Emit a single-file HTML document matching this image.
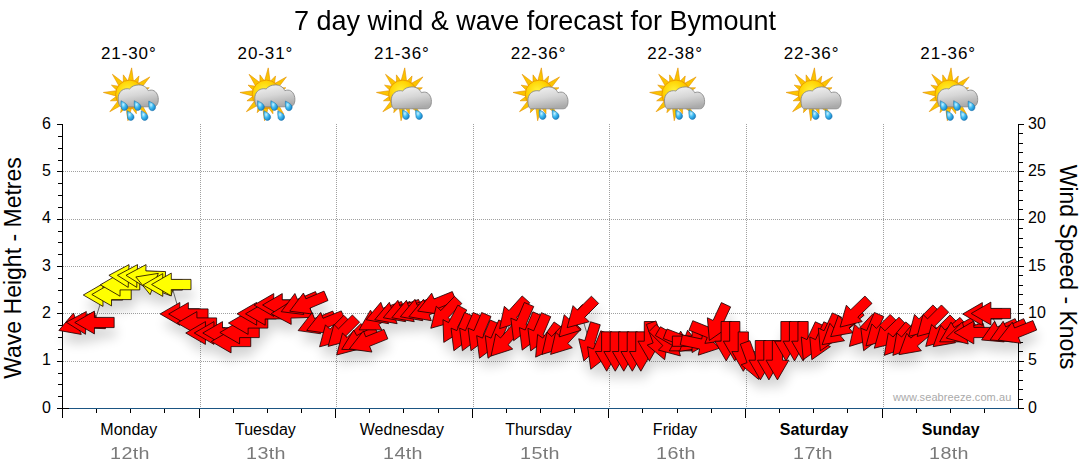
<!DOCTYPE html><html><head><meta charset="utf-8"><style>
html,body{margin:0;padding:0;background:#fff;width:1080px;height:475px;overflow:hidden}
body{position:relative;font-family:"Liberation Sans",sans-serif;color:#000}
.t{position:absolute;white-space:nowrap;line-height:1}
</style></head><body>
<div class="t" style="left:294px;top:6.5px;font-size:28px;transform:scaleX(0.965);transform-origin:0 0">7 day wind &amp; wave forecast for Bymount</div>
<div class="t" style="left:28.8px;width:200px;text-align:center;top:45px;font-size:17px;letter-spacing:0.9px">21-30°</div>
<div class="t" style="left:28.8px;width:200px;text-align:center;top:422px;font-size:16px;">Monday</div>
<div class="t" style="left:29.8px;width:200px;text-align:center;top:445px;font-size:17px;letter-spacing:0.3px;color:#7a7a7a;transform:scaleX(1.16)">12th</div>
<div class="t" style="left:165.4px;width:200px;text-align:center;top:45px;font-size:17px;letter-spacing:0.9px">20-31°</div>
<div class="t" style="left:165.4px;width:200px;text-align:center;top:422px;font-size:16px;">Tuesday</div>
<div class="t" style="left:166.4px;width:200px;text-align:center;top:445px;font-size:17px;letter-spacing:0.3px;color:#7a7a7a;transform:scaleX(1.16)">13th</div>
<div class="t" style="left:301.9px;width:200px;text-align:center;top:45px;font-size:17px;letter-spacing:0.9px">21-36°</div>
<div class="t" style="left:301.9px;width:200px;text-align:center;top:422px;font-size:16px;">Wednesday</div>
<div class="t" style="left:302.9px;width:200px;text-align:center;top:445px;font-size:17px;letter-spacing:0.3px;color:#7a7a7a;transform:scaleX(1.16)">14th</div>
<div class="t" style="left:438.5px;width:200px;text-align:center;top:45px;font-size:17px;letter-spacing:0.9px">22-36°</div>
<div class="t" style="left:438.5px;width:200px;text-align:center;top:422px;font-size:16px;">Thursday</div>
<div class="t" style="left:439.5px;width:200px;text-align:center;top:445px;font-size:17px;letter-spacing:0.3px;color:#7a7a7a;transform:scaleX(1.16)">15th</div>
<div class="t" style="left:575.1px;width:200px;text-align:center;top:45px;font-size:17px;letter-spacing:0.9px">22-38°</div>
<div class="t" style="left:575.1px;width:200px;text-align:center;top:422px;font-size:16px;">Friday</div>
<div class="t" style="left:576.1px;width:200px;text-align:center;top:445px;font-size:17px;letter-spacing:0.3px;color:#7a7a7a;transform:scaleX(1.16)">16th</div>
<div class="t" style="left:711.6px;width:200px;text-align:center;top:45px;font-size:17px;letter-spacing:0.9px">22-36°</div>
<div class="t" style="left:714.1px;width:200px;text-align:center;top:422px;font-size:16px;font-weight:bold;">Saturday</div>
<div class="t" style="left:712.6px;width:200px;text-align:center;top:445px;font-size:17px;letter-spacing:0.3px;color:#7a7a7a;transform:scaleX(1.16)">17th</div>
<div class="t" style="left:848.2px;width:200px;text-align:center;top:45px;font-size:17px;letter-spacing:0.9px">21-36°</div>
<div class="t" style="left:850.7px;width:200px;text-align:center;top:422px;font-size:16px;font-weight:bold;">Sunday</div>
<div class="t" style="left:849.2px;width:200px;text-align:center;top:445px;font-size:17px;letter-spacing:0.3px;color:#7a7a7a;transform:scaleX(1.16)">18th</div>
<div class="t" style="left:12.5px;top:267.5px;font-size:23px;transform:translate(-50%,-50%) rotate(-90deg)">Wave Height - Metres</div>
<div class="t" style="left:1066.8px;top:266.5px;font-size:23px;transform:translate(-50%,-50%) rotate(90deg)">Wind Speed - Knots</div>
<svg style="position:absolute;left:0;top:0" width="1080" height="475" viewBox="0 0 1080 475" shape-rendering="crispEdges">
<line x1="63" y1="171.5" x2="1018" y2="171.5" stroke="#a0a0a0" stroke-width="1" stroke-dasharray="1 1"/>
<line x1="63" y1="219.5" x2="1018" y2="219.5" stroke="#a0a0a0" stroke-width="1" stroke-dasharray="1 1"/>
<line x1="63" y1="266.5" x2="1018" y2="266.5" stroke="#a0a0a0" stroke-width="1" stroke-dasharray="1 1"/>
<line x1="63" y1="313.5" x2="1018" y2="313.5" stroke="#a0a0a0" stroke-width="1" stroke-dasharray="1 1"/>
<line x1="63" y1="361.5" x2="1018" y2="361.5" stroke="#a0a0a0" stroke-width="1" stroke-dasharray="1 1"/>
<line x1="200.5" y1="124" x2="200.5" y2="408" stroke="#a0a0a0" stroke-width="1" stroke-dasharray="1 1"/>
<line x1="336.5" y1="124" x2="336.5" y2="408" stroke="#a0a0a0" stroke-width="1" stroke-dasharray="1 1"/>
<line x1="473.5" y1="124" x2="473.5" y2="408" stroke="#a0a0a0" stroke-width="1" stroke-dasharray="1 1"/>
<line x1="609.5" y1="124" x2="609.5" y2="408" stroke="#a0a0a0" stroke-width="1" stroke-dasharray="1 1"/>
<line x1="746.5" y1="124" x2="746.5" y2="408" stroke="#a0a0a0" stroke-width="1" stroke-dasharray="1 1"/>
<line x1="883.5" y1="124" x2="883.5" y2="408" stroke="#a0a0a0" stroke-width="1" stroke-dasharray="1 1"/>
</svg>
<div class="t" style="left:0;width:51px;text-align:right;top:399.5px;font-size:16px">0</div>
<div class="t" style="left:1028px;top:399.5px;font-size:16px">0</div>
<div class="t" style="left:0;width:51px;text-align:right;top:352.2px;font-size:16px">1</div>
<div class="t" style="left:1028px;top:352.2px;font-size:16px">5</div>
<div class="t" style="left:0;width:51px;text-align:right;top:304.8px;font-size:16px">2</div>
<div class="t" style="left:1028px;top:304.8px;font-size:16px">10</div>
<div class="t" style="left:0;width:51px;text-align:right;top:257.5px;font-size:16px">3</div>
<div class="t" style="left:1028px;top:257.5px;font-size:16px">15</div>
<div class="t" style="left:0;width:51px;text-align:right;top:210.2px;font-size:16px">4</div>
<div class="t" style="left:1028px;top:210.2px;font-size:16px">20</div>
<div class="t" style="left:0;width:51px;text-align:right;top:162.9px;font-size:16px">5</div>
<div class="t" style="left:1028px;top:162.9px;font-size:16px">25</div>
<div class="t" style="left:0;width:51px;text-align:right;top:115.5px;font-size:16px">6</div>
<div class="t" style="left:1028px;top:115.5px;font-size:16px">30</div>
<svg style="position:absolute;left:0;top:0" width="1080" height="475" viewBox="0 0 1080 475" shape-rendering="crispEdges">
<rect x="62" y="124" width="1" height="294" fill="#000"/>
<rect x="1018" y="124" width="1" height="285" fill="#000"/>
<rect x="69" y="408" width="949" height="1" fill="#1b5583"/>
<rect x="57" y="408" width="12" height="1" fill="#000"/>
<rect x="199" y="409" width="1" height="9" fill="#000"/>
<rect x="335" y="409" width="1" height="9" fill="#000"/>
<rect x="472" y="409" width="1" height="9" fill="#000"/>
<rect x="608" y="409" width="1" height="9" fill="#000"/>
<rect x="745" y="409" width="1" height="9" fill="#000"/>
<rect x="882" y="409" width="1" height="9" fill="#000"/>
<rect x="96" y="409" width="1" height="4" fill="#000"/>
<rect x="130" y="409" width="1" height="4" fill="#000"/>
<rect x="164" y="409" width="1" height="4" fill="#000"/>
<rect x="233" y="409" width="1" height="4" fill="#000"/>
<rect x="267" y="409" width="1" height="4" fill="#000"/>
<rect x="301" y="409" width="1" height="4" fill="#000"/>
<rect x="369" y="409" width="1" height="4" fill="#000"/>
<rect x="403" y="409" width="1" height="4" fill="#000"/>
<rect x="438" y="409" width="1" height="4" fill="#000"/>
<rect x="506" y="409" width="1" height="4" fill="#000"/>
<rect x="540" y="409" width="1" height="4" fill="#000"/>
<rect x="574" y="409" width="1" height="4" fill="#000"/>
<rect x="642" y="409" width="1" height="4" fill="#000"/>
<rect x="677" y="409" width="1" height="4" fill="#000"/>
<rect x="711" y="409" width="1" height="4" fill="#000"/>
<rect x="779" y="409" width="1" height="4" fill="#000"/>
<rect x="813" y="409" width="1" height="4" fill="#000"/>
<rect x="847" y="409" width="1" height="4" fill="#000"/>
<rect x="916" y="409" width="1" height="4" fill="#000"/>
<rect x="950" y="409" width="1" height="4" fill="#000"/>
<rect x="984" y="409" width="1" height="4" fill="#000"/>
<rect x="57" y="408" width="5" height="1" fill="#000"/>
<rect x="1019" y="408" width="5" height="1" fill="#000"/>
<rect x="57" y="361" width="5" height="1" fill="#000"/>
<rect x="1019" y="361" width="5" height="1" fill="#000"/>
<rect x="57" y="313" width="5" height="1" fill="#000"/>
<rect x="1019" y="313" width="5" height="1" fill="#000"/>
<rect x="57" y="266" width="5" height="1" fill="#000"/>
<rect x="1019" y="266" width="5" height="1" fill="#000"/>
<rect x="57" y="219" width="5" height="1" fill="#000"/>
<rect x="1019" y="219" width="5" height="1" fill="#000"/>
<rect x="57" y="171" width="5" height="1" fill="#000"/>
<rect x="1019" y="171" width="5" height="1" fill="#000"/>
<rect x="57" y="124" width="5" height="1" fill="#000"/>
<rect x="1019" y="124" width="5" height="1" fill="#000"/>
<rect x="58" y="396" width="4" height="1" fill="#000"/>
<rect x="58" y="384" width="4" height="1" fill="#000"/>
<rect x="58" y="373" width="4" height="1" fill="#000"/>
<rect x="58" y="349" width="4" height="1" fill="#000"/>
<rect x="58" y="337" width="4" height="1" fill="#000"/>
<rect x="58" y="325" width="4" height="1" fill="#000"/>
<rect x="58" y="302" width="4" height="1" fill="#000"/>
<rect x="58" y="290" width="4" height="1" fill="#000"/>
<rect x="58" y="278" width="4" height="1" fill="#000"/>
<rect x="58" y="254" width="4" height="1" fill="#000"/>
<rect x="58" y="242" width="4" height="1" fill="#000"/>
<rect x="58" y="231" width="4" height="1" fill="#000"/>
<rect x="58" y="207" width="4" height="1" fill="#000"/>
<rect x="58" y="195" width="4" height="1" fill="#000"/>
<rect x="58" y="183" width="4" height="1" fill="#000"/>
<rect x="58" y="160" width="4" height="1" fill="#000"/>
<rect x="58" y="148" width="4" height="1" fill="#000"/>
<rect x="58" y="136" width="4" height="1" fill="#000"/>
<rect x="1019" y="399" width="4" height="1" fill="#000"/>
<rect x="1019" y="389" width="4" height="1" fill="#000"/>
<rect x="1019" y="380" width="4" height="1" fill="#000"/>
<rect x="1019" y="370" width="4" height="1" fill="#000"/>
<rect x="1019" y="351" width="4" height="1" fill="#000"/>
<rect x="1019" y="342" width="4" height="1" fill="#000"/>
<rect x="1019" y="332" width="4" height="1" fill="#000"/>
<rect x="1019" y="323" width="4" height="1" fill="#000"/>
<rect x="1019" y="304" width="4" height="1" fill="#000"/>
<rect x="1019" y="294" width="4" height="1" fill="#000"/>
<rect x="1019" y="285" width="4" height="1" fill="#000"/>
<rect x="1019" y="275" width="4" height="1" fill="#000"/>
<rect x="1019" y="257" width="4" height="1" fill="#000"/>
<rect x="1019" y="247" width="4" height="1" fill="#000"/>
<rect x="1019" y="238" width="4" height="1" fill="#000"/>
<rect x="1019" y="228" width="4" height="1" fill="#000"/>
<rect x="1019" y="209" width="4" height="1" fill="#000"/>
<rect x="1019" y="200" width="4" height="1" fill="#000"/>
<rect x="1019" y="190" width="4" height="1" fill="#000"/>
<rect x="1019" y="181" width="4" height="1" fill="#000"/>
<rect x="1019" y="162" width="4" height="1" fill="#000"/>
<rect x="1019" y="152" width="4" height="1" fill="#000"/>
<rect x="1019" y="143" width="4" height="1" fill="#000"/>
<rect x="1019" y="133" width="4" height="1" fill="#000"/>
</svg>
<svg style="position:absolute;left:0;top:0" width="1080" height="475" viewBox="0 0 1080 475">
<defs><filter id="shd" x="-10%" y="-50%" width="120%" height="200%"><feGaussianBlur stdDeviation="6"/></filter></defs>
<g filter="url(#shd)" opacity="0.17" transform="translate(2,10)">
<polygon points="58.86,330.44 73.48,312.99 75.63,318.91 94.14,312.17 97.63,321.75 79.12,328.49 81.27,334.41" fill="#000"/>
<polygon points="66.22,322.21 86.31,311.51 86.09,317.80 105.78,318.49 105.42,328.68 85.73,328.00 85.51,334.29" fill="#000"/>
<polygon points="74.75,322.50 94.45,311.10 94.45,317.40 114.15,317.40 114.15,327.60 94.45,327.60 94.45,333.90" fill="#000"/>
<polygon points="83.29,295.00 102.99,283.60 102.99,289.90 122.69,289.90 122.69,300.10 102.99,300.10 102.99,306.40" fill="#000"/>
<polygon points="91.82,294.50 111.52,283.10 111.52,289.40 131.22,289.40 131.22,299.60 111.52,299.60 111.52,305.90" fill="#000"/>
<polygon points="100.36,284.80 120.06,273.40 120.06,279.70 139.76,279.70 139.76,289.90 120.06,289.90 120.06,296.20" fill="#000"/>
<polygon points="108.91,275.31 129.00,264.61 128.78,270.90 148.47,271.59 148.11,281.78 128.42,281.10 128.20,287.39" fill="#000"/>
<polygon points="117.45,275.31 137.54,264.61 137.32,270.90 157.00,271.59 156.65,281.78 136.96,281.10 136.74,287.39" fill="#000"/>
<polygon points="125.99,275.31 146.07,264.61 145.85,270.90 165.54,271.59 165.19,281.78 145.50,281.10 145.28,287.39" fill="#000"/>
<polygon points="135.82,276.94 158.30,273.36 156.04,279.24 174.43,286.30 170.78,295.82 152.38,288.76 150.13,294.64" fill="#000"/>
<polygon points="143.05,285.00 162.75,273.60 162.75,279.90 182.45,279.90 182.45,290.10 162.75,290.10 162.75,296.40" fill="#000"/>
<polygon points="151.59,284.50 171.29,273.10 171.29,279.40 190.99,279.40 190.99,289.60 171.29,289.60 171.29,295.90" fill="#000"/>
<polygon points="160.12,313.90 179.82,302.50 179.82,308.80 199.52,308.80 199.52,319.00 179.82,319.00 179.82,325.30" fill="#000"/>
<polygon points="168.66,314.00 188.36,302.60 188.36,308.90 208.06,308.90 208.06,319.10 188.36,319.10 188.36,325.40" fill="#000"/>
<polygon points="177.20,323.00 196.90,311.60 196.90,317.90 216.60,317.90 216.60,328.10 196.90,328.10 196.90,334.40" fill="#000"/>
<polygon points="185.74,333.00 205.44,321.60 205.44,327.90 225.14,327.90 225.14,338.10 205.44,338.10 205.44,344.40" fill="#000"/>
<polygon points="194.27,333.00 213.97,321.60 213.97,327.90 233.67,327.90 233.67,338.10 213.97,338.10 213.97,344.40" fill="#000"/>
<polygon points="202.81,333.00 222.51,321.60 222.51,327.90 242.21,327.90 242.21,338.10 222.51,338.10 222.51,344.40" fill="#000"/>
<polygon points="211.35,341.50 231.05,330.10 231.05,336.40 250.75,336.40 250.75,346.60 231.05,346.60 231.05,352.90" fill="#000"/>
<polygon points="219.89,332.50 239.59,321.10 239.59,327.40 259.29,327.40 259.29,337.60 239.59,337.60 239.59,343.90" fill="#000"/>
<polygon points="228.43,323.00 248.12,311.60 248.12,317.90 267.82,317.90 267.82,328.10 248.12,328.10 248.12,334.40" fill="#000"/>
<polygon points="236.96,313.80 256.66,302.40 256.66,308.70 276.36,308.70 276.36,318.90 256.66,318.90 256.66,325.20" fill="#000"/>
<polygon points="245.50,313.80 265.20,302.40 265.20,308.70 284.90,308.70 284.90,318.90 265.20,318.90 265.20,325.20" fill="#000"/>
<polygon points="254.04,305.00 273.74,293.60 273.74,299.90 293.44,299.90 293.44,310.10 273.74,310.10 273.74,316.40" fill="#000"/>
<polygon points="262.57,305.00 282.27,293.60 282.27,299.90 301.97,299.90 301.97,310.10 282.27,310.10 282.27,316.40" fill="#000"/>
<polygon points="271.12,313.69 290.41,301.61 290.63,307.90 310.32,307.22 310.68,317.41 290.99,318.10 291.21,324.39" fill="#000"/>
<polygon points="281.22,311.70 294.90,293.51 297.36,299.31 315.49,291.61 319.48,301.00 301.34,308.69 303.80,314.49" fill="#000"/>
<polygon points="289.75,311.20 303.43,293.01 305.89,298.81 324.03,291.11 328.01,300.50 309.88,308.19 312.34,313.99" fill="#000"/>
<polygon points="298.16,330.58 312.15,312.63 314.51,318.47 332.78,311.09 336.60,320.55 318.34,327.93 320.70,333.77" fill="#000"/>
<polygon points="306.70,330.38 320.69,312.43 323.05,318.27 341.32,310.89 345.14,320.35 326.87,327.73 329.23,333.57" fill="#000"/>
<polygon points="319.57,346.83 325.44,324.84 329.89,329.29 343.82,315.36 351.04,322.58 337.11,336.51 341.56,340.96" fill="#000"/>
<polygon points="328.11,346.43 333.98,324.44 338.43,328.89 352.36,314.96 359.57,322.18 345.64,336.11 350.10,340.56" fill="#000"/>
<polygon points="336.64,355.03 342.51,333.04 346.97,337.49 360.90,323.56 368.11,330.78 354.18,344.71 358.64,349.16" fill="#000"/>
<polygon points="341.72,349.35 353.76,330.03 356.72,335.60 374.11,326.35 378.90,335.35 361.51,344.60 364.46,350.17" fill="#000"/>
<polygon points="349.38,348.88 363.38,330.93 365.74,336.77 384.01,329.39 387.83,338.85 369.56,346.23 371.92,352.07" fill="#000"/>
<polygon points="359.13,329.85 370.49,310.13 373.64,315.58 390.70,305.73 395.80,314.57 378.74,324.42 381.89,329.87" fill="#000"/>
<polygon points="366.21,319.74 380.83,302.29 382.98,308.21 401.49,301.47 404.98,311.05 386.47,317.79 388.62,323.71" fill="#000"/>
<polygon points="374.75,319.74 389.36,302.29 391.52,308.21 410.03,301.47 413.52,311.05 395.01,317.79 397.16,323.71" fill="#000"/>
<polygon points="383.29,317.74 397.90,300.29 400.06,306.21 418.57,299.47 422.06,309.05 403.54,315.79 405.70,321.71" fill="#000"/>
<polygon points="391.83,317.74 406.44,300.29 408.59,306.21 427.11,299.47 430.59,309.05 412.08,315.79 414.24,321.71" fill="#000"/>
<polygon points="400.36,316.74 414.98,299.29 417.13,305.21 435.64,298.47 439.13,308.05 420.62,314.79 422.77,320.71" fill="#000"/>
<polygon points="408.90,316.74 423.51,299.29 425.67,305.21 444.18,298.47 447.67,308.05 429.16,314.79 431.31,320.71" fill="#000"/>
<polygon points="417.68,311.08 431.68,293.13 434.04,298.97 452.31,291.59 456.13,301.05 437.86,308.43 440.22,314.27" fill="#000"/>
<polygon points="430.80,328.27 436.29,306.18 440.82,310.56 454.50,296.39 461.84,303.47 448.16,317.64 452.69,322.02" fill="#000"/>
<polygon points="443.78,342.39 442.96,319.65 448.52,322.61 457.77,305.21 466.78,310.00 457.53,327.39 463.09,330.35" fill="#000"/>
<polygon points="453.87,350.73 451.07,328.15 456.87,330.61 464.57,312.47 473.95,316.46 466.26,334.59 472.06,337.05" fill="#000"/>
<polygon points="462.40,350.73 459.61,328.15 465.41,330.61 473.10,312.47 482.49,316.46 474.79,334.59 480.59,337.05" fill="#000"/>
<polygon points="470.94,350.73 468.14,328.15 473.94,330.61 481.64,312.47 491.03,316.46 483.33,334.59 489.13,337.05" fill="#000"/>
<polygon points="479.48,358.23 476.68,335.65 482.48,338.11 490.18,319.97 499.57,323.96 491.87,342.09 497.67,344.55" fill="#000"/>
<polygon points="488.02,358.23 485.22,335.65 491.02,338.11 498.72,319.97 508.10,323.96 500.41,342.09 506.21,344.55" fill="#000"/>
<polygon points="491.07,356.04 495.78,333.77 500.46,337.99 513.64,323.35 521.22,330.17 508.04,344.81 512.72,349.03" fill="#000"/>
<polygon points="499.61,328.64 504.32,306.37 509.00,310.59 522.18,295.95 529.76,302.77 516.58,317.41 521.26,321.63" fill="#000"/>
<polygon points="513.63,340.73 510.83,318.15 516.63,320.61 524.33,302.47 533.72,306.46 526.02,324.59 531.82,327.05" fill="#000"/>
<polygon points="522.17,350.13 519.37,327.55 525.17,330.01 532.87,311.87 542.25,315.86 534.56,333.99 540.36,336.45" fill="#000"/>
<polygon points="530.70,350.93 527.91,328.35 533.71,330.81 541.40,312.67 550.79,316.66 543.09,334.79 548.89,337.25" fill="#000"/>
<polygon points="535.64,357.14 537.60,334.46 542.76,338.07 554.06,321.94 562.41,327.79 551.12,343.93 556.28,347.54" fill="#000"/>
<polygon points="542.04,354.41 547.14,332.23 551.75,336.52 565.18,322.11 572.64,329.07 559.20,343.48 563.81,347.77" fill="#000"/>
<polygon points="550.58,354.41 555.68,332.23 560.28,336.52 573.72,322.11 581.18,329.07 567.74,343.48 572.35,347.77" fill="#000"/>
<polygon points="559.11,336.91 564.21,314.73 568.82,319.02 582.26,304.61 589.72,311.57 576.28,325.98 580.89,330.27" fill="#000"/>
<polygon points="567.16,327.63 573.03,305.64 577.48,310.09 591.41,296.16 598.62,303.38 584.69,317.31 589.15,321.76" fill="#000"/>
<polygon points="583.87,360.94 578.72,338.77 584.75,340.61 590.51,321.77 600.26,324.75 594.50,343.59 600.53,345.43" fill="#000"/>
<polygon points="590.78,369.27 587.59,346.73 593.43,349.09 600.81,330.82 610.27,334.64 602.89,352.91 608.73,355.27" fill="#000"/>
<polygon points="606.70,371.20 595.30,351.50 601.60,351.50 601.60,331.80 611.80,331.80 611.80,351.50 618.10,351.50" fill="#000"/>
<polygon points="615.24,371.20 603.84,351.50 610.14,351.50 610.14,331.80 620.34,331.80 620.34,351.50 626.64,351.50" fill="#000"/>
<polygon points="623.77,371.20 612.38,351.50 618.67,351.50 618.67,331.80 628.88,331.80 628.88,351.50 635.17,351.50" fill="#000"/>
<polygon points="632.31,371.20 620.91,351.50 627.21,351.50 627.21,331.80 637.41,331.80 637.41,351.50 643.71,351.50" fill="#000"/>
<polygon points="640.85,371.20 629.45,351.50 635.75,351.50 635.75,331.80 645.95,331.80 645.95,351.50 652.25,351.50" fill="#000"/>
<polygon points="649.39,360.90 637.99,341.20 644.29,341.20 644.29,321.50 654.49,321.50 654.49,341.20 660.79,341.20" fill="#000"/>
<polygon points="664.66,359.71 647.21,345.10 653.13,342.94 646.39,324.43 655.98,320.94 662.72,339.46 668.64,337.30" fill="#000"/>
<polygon points="680.39,355.93 658.40,350.06 662.86,345.61 648.93,331.68 656.14,324.46 670.07,338.39 674.52,333.94" fill="#000"/>
<polygon points="692.06,350.85 669.30,350.87 672.45,345.42 655.39,335.57 660.49,326.73 677.55,336.58 680.70,331.13" fill="#000"/>
<polygon points="701.93,347.86 679.45,351.44 681.71,345.56 663.32,338.50 666.97,328.98 685.37,336.04 687.62,330.16" fill="#000"/>
<polygon points="711.77,341.20 692.07,352.60 692.07,346.30 672.37,346.30 672.37,336.10 692.07,336.10 692.07,329.80" fill="#000"/>
<polygon points="719.88,348.10 698.24,355.15 699.55,348.99 680.28,344.89 682.40,334.92 701.67,339.01 702.98,332.85" fill="#000"/>
<polygon points="727.42,340.18 704.88,343.37 707.24,337.53 688.97,330.15 692.79,320.69 711.06,328.07 713.42,322.23" fill="#000"/>
<polygon points="709.36,340.45 707.36,317.78 713.07,320.44 721.39,302.59 730.64,306.90 722.31,324.76 728.02,327.42" fill="#000"/>
<polygon points="726.22,360.90 714.82,341.20 721.12,341.20 721.12,321.50 731.32,321.50 731.32,341.20 737.62,341.20" fill="#000"/>
<polygon points="734.76,360.90 723.36,341.20 729.66,341.20 729.66,321.50 739.86,321.50 739.86,341.20 746.16,341.20" fill="#000"/>
<polygon points="743.30,371.30 731.90,351.60 738.20,351.60 738.20,331.90 748.40,331.90 748.40,351.60 754.70,351.60" fill="#000"/>
<polygon points="758.58,379.41 741.13,364.80 747.05,362.64 740.31,344.13 749.89,340.64 756.63,359.16 762.55,357.00" fill="#000"/>
<polygon points="760.37,379.90 748.97,360.20 755.27,360.20 755.27,340.50 765.47,340.50 765.47,360.20 771.77,360.20" fill="#000"/>
<polygon points="768.91,379.90 757.51,360.20 763.81,360.20 763.81,340.50 774.01,340.50 774.01,360.20 780.31,360.20" fill="#000"/>
<polygon points="777.45,379.90 766.05,360.20 772.35,360.20 772.35,340.50 782.55,340.50 782.55,360.20 788.85,360.20" fill="#000"/>
<polygon points="785.99,360.90 774.59,341.20 780.89,341.20 780.89,321.50 791.09,321.50 791.09,341.20 797.39,341.20" fill="#000"/>
<polygon points="794.52,360.90 783.12,341.20 789.42,341.20 789.42,321.50 799.62,321.50 799.62,341.20 805.92,341.20" fill="#000"/>
<polygon points="803.06,360.90 791.66,341.20 797.96,341.20 797.96,321.50 808.16,321.50 808.16,341.20 814.46,341.20" fill="#000"/>
<polygon points="803.27,359.65 801.27,336.98 806.98,339.64 815.30,321.79 824.55,326.10 816.22,343.96 821.93,346.62" fill="#000"/>
<polygon points="811.81,359.65 809.81,336.98 815.52,339.64 823.84,321.79 833.09,326.10 824.76,343.96 830.47,346.62" fill="#000"/>
<polygon points="820.35,350.75 818.34,328.08 824.05,330.74 832.38,312.89 841.62,317.20 833.30,335.06 839.01,337.72" fill="#000"/>
<polygon points="822.12,344.66 829.88,323.27 833.93,328.09 849.03,315.43 855.58,323.24 840.49,335.91 844.54,340.73" fill="#000"/>
<polygon points="830.66,336.66 838.42,315.27 842.47,320.09 857.56,307.43 864.12,315.24 849.03,327.91 853.08,332.73" fill="#000"/>
<polygon points="840.12,327.08 846.37,305.20 850.74,309.73 864.92,296.05 872.00,303.38 857.83,317.07 862.21,321.60" fill="#000"/>
<polygon points="849.39,346.41 854.49,324.23 859.10,328.52 872.53,314.11 879.99,321.07 866.55,335.48 871.16,339.77" fill="#000"/>
<polygon points="863.67,350.73 860.87,328.15 866.67,330.61 874.37,312.47 883.75,316.46 876.06,334.59 881.86,337.05" fill="#000"/>
<polygon points="865.97,345.93 871.84,323.94 876.29,328.39 890.22,314.46 897.44,321.68 883.51,335.61 887.96,340.06" fill="#000"/>
<polygon points="874.27,348.18 880.52,326.30 884.89,330.83 899.07,317.15 906.15,324.48 891.98,338.17 896.36,342.70" fill="#000"/>
<polygon points="884.31,355.39 888.24,332.97 893.07,337.02 905.73,321.93 913.54,328.49 900.88,343.58 905.71,347.63" fill="#000"/>
<polygon points="892.85,355.39 896.78,332.97 901.61,337.02 914.27,321.93 922.08,328.49 909.42,343.58 914.25,347.63" fill="#000"/>
<polygon points="898.96,354.66 906.72,333.27 910.77,338.09 925.86,325.43 932.42,333.24 917.33,345.91 921.38,350.73" fill="#000"/>
<polygon points="908.66,336.43 914.53,314.44 918.98,318.89 932.91,304.96 940.12,312.18 926.19,326.11 930.65,330.56" fill="#000"/>
<polygon points="917.19,336.43 923.06,314.44 927.52,318.89 941.45,304.96 948.66,312.18 934.73,326.11 939.19,330.56" fill="#000"/>
<polygon points="925.73,346.43 931.60,324.44 936.06,328.89 949.99,314.96 957.20,322.18 943.27,336.11 947.72,340.56" fill="#000"/>
<polygon points="933.11,346.66 940.87,325.27 944.92,330.09 960.01,317.43 966.57,325.24 951.48,337.91 955.53,342.73" fill="#000"/>
<polygon points="939.68,341.85 951.04,322.13 954.19,327.58 971.25,317.73 976.35,326.57 959.29,336.42 962.44,341.87" fill="#000"/>
<polygon points="946.25,338.10 962.32,321.99 963.96,328.07 982.98,322.98 985.62,332.83 966.59,337.93 968.23,344.01" fill="#000"/>
<polygon points="954.11,332.50 973.81,321.10 973.81,327.40 993.51,327.40 993.51,337.60 973.81,337.60 973.81,343.90" fill="#000"/>
<polygon points="962.65,314.00 982.35,302.60 982.35,308.90 1002.05,308.90 1002.05,319.10 982.35,319.10 982.35,325.40" fill="#000"/>
<polygon points="971.19,313.50 990.89,302.10 990.89,308.40 1010.59,308.40 1010.59,318.60 990.89,318.60 990.89,324.90" fill="#000"/>
<polygon points="981.57,339.93 994.61,321.27 997.27,326.98 1015.12,318.65 1019.43,327.90 1001.58,336.22 1004.24,341.93" fill="#000"/>
<polygon points="990.11,339.93 1003.14,321.27 1005.81,326.98 1023.66,318.65 1027.97,327.90 1010.12,336.22 1012.78,341.93" fill="#000"/>
<polygon points="998.23,340.08 1012.23,322.13 1014.59,327.97 1032.86,320.59 1036.68,330.05 1018.41,337.43 1020.77,343.27" fill="#000"/>
</g>
<polyline points="77.4,323.7 85.9,322.9 94.4,322.5 103.0,295.0 111.5,294.5 120.1,284.8 128.6,276.0 137.1,276.0 145.7,276.0 154.2,284.0 162.8,285.0 171.3,284.5 179.8,313.9 188.4,314.0 196.9,323.0 205.4,333.0 214.0,333.0 222.5,333.0 231.1,341.5 239.6,332.5 248.1,323.0 256.7,313.8 265.2,313.8 273.7,305.0 282.3,305.0 290.8,313.0 299.3,304.0 307.9,303.5 316.4,323.2 325.0,323.0 333.5,332.9 342.0,332.5 350.6,341.1 359.1,340.1 367.6,341.5 376.2,320.0 384.7,313.0 393.3,313.0 401.8,311.0 410.3,311.0 418.9,310.0 427.4,310.0 435.9,303.7 444.5,314.1 453.0,325.0 461.6,332.6 470.1,332.6 478.6,332.6 487.2,340.1 495.7,340.1 504.2,341.4 512.8,314.0 521.3,322.6 529.9,332.0 538.4,332.8 546.9,341.0 555.5,340.0 564.0,340.0 572.5,322.5 581.1,313.7 589.6,342.1 598.2,351.0 606.7,351.5 615.2,351.5 623.8,351.5 632.3,351.5 640.8,351.5 649.4,341.2 657.9,341.2 666.5,342.0 675.0,341.0 683.5,340.8 692.1,341.2 700.6,344.0 709.1,332.8 717.7,322.6 726.2,341.2 734.8,341.2 743.3,351.6 751.8,360.9 760.4,360.2 768.9,360.2 777.4,360.2 786.0,341.2 794.5,341.2 803.1,341.2 811.6,341.8 820.1,341.8 828.7,332.9 837.2,332.0 845.7,324.0 854.3,313.4 862.8,332.0 871.4,332.6 879.9,332.0 888.4,334.5 897.0,340.3 905.5,340.3 914.0,342.0 922.6,322.5 931.1,322.5 939.7,332.5 948.2,334.0 956.7,332.0 965.3,333.0 973.8,332.5 982.3,314.0 990.9,313.5 999.4,331.6 1008.0,331.6 1016.5,332.7" fill="none" stroke="#666" stroke-width="1"/>
<polygon points="58.86,330.44 73.48,312.99 75.63,318.91 94.14,312.17 97.63,321.75 79.12,328.49 81.27,334.41" fill="#ff0000" stroke="#140000" stroke-width="0.8" stroke-linejoin="miter"/>
<polygon points="66.22,322.21 86.31,311.51 86.09,317.80 105.78,318.49 105.42,328.68 85.73,328.00 85.51,334.29" fill="#ff0000" stroke="#140000" stroke-width="0.8" stroke-linejoin="miter"/>
<polygon points="74.75,322.50 94.45,311.10 94.45,317.40 114.15,317.40 114.15,327.60 94.45,327.60 94.45,333.90" fill="#ff0000" stroke="#140000" stroke-width="0.8" stroke-linejoin="miter"/>
<polygon points="83.29,295.00 102.99,283.60 102.99,289.90 122.69,289.90 122.69,300.10 102.99,300.10 102.99,306.40" fill="#ffff00" stroke="#140000" stroke-width="0.8" stroke-linejoin="miter"/>
<polygon points="91.82,294.50 111.52,283.10 111.52,289.40 131.22,289.40 131.22,299.60 111.52,299.60 111.52,305.90" fill="#ffff00" stroke="#140000" stroke-width="0.8" stroke-linejoin="miter"/>
<polygon points="100.36,284.80 120.06,273.40 120.06,279.70 139.76,279.70 139.76,289.90 120.06,289.90 120.06,296.20" fill="#ffff00" stroke="#140000" stroke-width="0.8" stroke-linejoin="miter"/>
<polygon points="108.91,275.31 129.00,264.61 128.78,270.90 148.47,271.59 148.11,281.78 128.42,281.10 128.20,287.39" fill="#ffff00" stroke="#140000" stroke-width="0.8" stroke-linejoin="miter"/>
<polygon points="117.45,275.31 137.54,264.61 137.32,270.90 157.00,271.59 156.65,281.78 136.96,281.10 136.74,287.39" fill="#ffff00" stroke="#140000" stroke-width="0.8" stroke-linejoin="miter"/>
<polygon points="125.99,275.31 146.07,264.61 145.85,270.90 165.54,271.59 165.19,281.78 145.50,281.10 145.28,287.39" fill="#ffff00" stroke="#140000" stroke-width="0.8" stroke-linejoin="miter"/>
<polygon points="135.82,276.94 158.30,273.36 156.04,279.24 174.43,286.30 170.78,295.82 152.38,288.76 150.13,294.64" fill="#ffff00" stroke="#140000" stroke-width="0.8" stroke-linejoin="miter"/>
<polygon points="143.05,285.00 162.75,273.60 162.75,279.90 182.45,279.90 182.45,290.10 162.75,290.10 162.75,296.40" fill="#ffff00" stroke="#140000" stroke-width="0.8" stroke-linejoin="miter"/>
<polygon points="151.59,284.50 171.29,273.10 171.29,279.40 190.99,279.40 190.99,289.60 171.29,289.60 171.29,295.90" fill="#ffff00" stroke="#140000" stroke-width="0.8" stroke-linejoin="miter"/>
<polygon points="160.12,313.90 179.82,302.50 179.82,308.80 199.52,308.80 199.52,319.00 179.82,319.00 179.82,325.30" fill="#ff0000" stroke="#140000" stroke-width="0.8" stroke-linejoin="miter"/>
<polygon points="168.66,314.00 188.36,302.60 188.36,308.90 208.06,308.90 208.06,319.10 188.36,319.10 188.36,325.40" fill="#ff0000" stroke="#140000" stroke-width="0.8" stroke-linejoin="miter"/>
<polygon points="177.20,323.00 196.90,311.60 196.90,317.90 216.60,317.90 216.60,328.10 196.90,328.10 196.90,334.40" fill="#ff0000" stroke="#140000" stroke-width="0.8" stroke-linejoin="miter"/>
<polygon points="185.74,333.00 205.44,321.60 205.44,327.90 225.14,327.90 225.14,338.10 205.44,338.10 205.44,344.40" fill="#ff0000" stroke="#140000" stroke-width="0.8" stroke-linejoin="miter"/>
<polygon points="194.27,333.00 213.97,321.60 213.97,327.90 233.67,327.90 233.67,338.10 213.97,338.10 213.97,344.40" fill="#ff0000" stroke="#140000" stroke-width="0.8" stroke-linejoin="miter"/>
<polygon points="202.81,333.00 222.51,321.60 222.51,327.90 242.21,327.90 242.21,338.10 222.51,338.10 222.51,344.40" fill="#ff0000" stroke="#140000" stroke-width="0.8" stroke-linejoin="miter"/>
<polygon points="211.35,341.50 231.05,330.10 231.05,336.40 250.75,336.40 250.75,346.60 231.05,346.60 231.05,352.90" fill="#ff0000" stroke="#140000" stroke-width="0.8" stroke-linejoin="miter"/>
<polygon points="219.89,332.50 239.59,321.10 239.59,327.40 259.29,327.40 259.29,337.60 239.59,337.60 239.59,343.90" fill="#ff0000" stroke="#140000" stroke-width="0.8" stroke-linejoin="miter"/>
<polygon points="228.43,323.00 248.12,311.60 248.12,317.90 267.82,317.90 267.82,328.10 248.12,328.10 248.12,334.40" fill="#ff0000" stroke="#140000" stroke-width="0.8" stroke-linejoin="miter"/>
<polygon points="236.96,313.80 256.66,302.40 256.66,308.70 276.36,308.70 276.36,318.90 256.66,318.90 256.66,325.20" fill="#ff0000" stroke="#140000" stroke-width="0.8" stroke-linejoin="miter"/>
<polygon points="245.50,313.80 265.20,302.40 265.20,308.70 284.90,308.70 284.90,318.90 265.20,318.90 265.20,325.20" fill="#ff0000" stroke="#140000" stroke-width="0.8" stroke-linejoin="miter"/>
<polygon points="254.04,305.00 273.74,293.60 273.74,299.90 293.44,299.90 293.44,310.10 273.74,310.10 273.74,316.40" fill="#ff0000" stroke="#140000" stroke-width="0.8" stroke-linejoin="miter"/>
<polygon points="262.57,305.00 282.27,293.60 282.27,299.90 301.97,299.90 301.97,310.10 282.27,310.10 282.27,316.40" fill="#ff0000" stroke="#140000" stroke-width="0.8" stroke-linejoin="miter"/>
<polygon points="271.12,313.69 290.41,301.61 290.63,307.90 310.32,307.22 310.68,317.41 290.99,318.10 291.21,324.39" fill="#ff0000" stroke="#140000" stroke-width="0.8" stroke-linejoin="miter"/>
<polygon points="281.22,311.70 294.90,293.51 297.36,299.31 315.49,291.61 319.48,301.00 301.34,308.69 303.80,314.49" fill="#ff0000" stroke="#140000" stroke-width="0.8" stroke-linejoin="miter"/>
<polygon points="289.75,311.20 303.43,293.01 305.89,298.81 324.03,291.11 328.01,300.50 309.88,308.19 312.34,313.99" fill="#ff0000" stroke="#140000" stroke-width="0.8" stroke-linejoin="miter"/>
<polygon points="298.16,330.58 312.15,312.63 314.51,318.47 332.78,311.09 336.60,320.55 318.34,327.93 320.70,333.77" fill="#ff0000" stroke="#140000" stroke-width="0.8" stroke-linejoin="miter"/>
<polygon points="306.70,330.38 320.69,312.43 323.05,318.27 341.32,310.89 345.14,320.35 326.87,327.73 329.23,333.57" fill="#ff0000" stroke="#140000" stroke-width="0.8" stroke-linejoin="miter"/>
<polygon points="319.57,346.83 325.44,324.84 329.89,329.29 343.82,315.36 351.04,322.58 337.11,336.51 341.56,340.96" fill="#ff0000" stroke="#140000" stroke-width="0.8" stroke-linejoin="miter"/>
<polygon points="328.11,346.43 333.98,324.44 338.43,328.89 352.36,314.96 359.57,322.18 345.64,336.11 350.10,340.56" fill="#ff0000" stroke="#140000" stroke-width="0.8" stroke-linejoin="miter"/>
<polygon points="336.64,355.03 342.51,333.04 346.97,337.49 360.90,323.56 368.11,330.78 354.18,344.71 358.64,349.16" fill="#ff0000" stroke="#140000" stroke-width="0.8" stroke-linejoin="miter"/>
<polygon points="341.72,349.35 353.76,330.03 356.72,335.60 374.11,326.35 378.90,335.35 361.51,344.60 364.46,350.17" fill="#ff0000" stroke="#140000" stroke-width="0.8" stroke-linejoin="miter"/>
<polygon points="349.38,348.88 363.38,330.93 365.74,336.77 384.01,329.39 387.83,338.85 369.56,346.23 371.92,352.07" fill="#ff0000" stroke="#140000" stroke-width="0.8" stroke-linejoin="miter"/>
<polygon points="359.13,329.85 370.49,310.13 373.64,315.58 390.70,305.73 395.80,314.57 378.74,324.42 381.89,329.87" fill="#ff0000" stroke="#140000" stroke-width="0.8" stroke-linejoin="miter"/>
<polygon points="366.21,319.74 380.83,302.29 382.98,308.21 401.49,301.47 404.98,311.05 386.47,317.79 388.62,323.71" fill="#ff0000" stroke="#140000" stroke-width="0.8" stroke-linejoin="miter"/>
<polygon points="374.75,319.74 389.36,302.29 391.52,308.21 410.03,301.47 413.52,311.05 395.01,317.79 397.16,323.71" fill="#ff0000" stroke="#140000" stroke-width="0.8" stroke-linejoin="miter"/>
<polygon points="383.29,317.74 397.90,300.29 400.06,306.21 418.57,299.47 422.06,309.05 403.54,315.79 405.70,321.71" fill="#ff0000" stroke="#140000" stroke-width="0.8" stroke-linejoin="miter"/>
<polygon points="391.83,317.74 406.44,300.29 408.59,306.21 427.11,299.47 430.59,309.05 412.08,315.79 414.24,321.71" fill="#ff0000" stroke="#140000" stroke-width="0.8" stroke-linejoin="miter"/>
<polygon points="400.36,316.74 414.98,299.29 417.13,305.21 435.64,298.47 439.13,308.05 420.62,314.79 422.77,320.71" fill="#ff0000" stroke="#140000" stroke-width="0.8" stroke-linejoin="miter"/>
<polygon points="408.90,316.74 423.51,299.29 425.67,305.21 444.18,298.47 447.67,308.05 429.16,314.79 431.31,320.71" fill="#ff0000" stroke="#140000" stroke-width="0.8" stroke-linejoin="miter"/>
<polygon points="417.68,311.08 431.68,293.13 434.04,298.97 452.31,291.59 456.13,301.05 437.86,308.43 440.22,314.27" fill="#ff0000" stroke="#140000" stroke-width="0.8" stroke-linejoin="miter"/>
<polygon points="430.80,328.27 436.29,306.18 440.82,310.56 454.50,296.39 461.84,303.47 448.16,317.64 452.69,322.02" fill="#ff0000" stroke="#140000" stroke-width="0.8" stroke-linejoin="miter"/>
<polygon points="443.78,342.39 442.96,319.65 448.52,322.61 457.77,305.21 466.78,310.00 457.53,327.39 463.09,330.35" fill="#ff0000" stroke="#140000" stroke-width="0.8" stroke-linejoin="miter"/>
<polygon points="453.87,350.73 451.07,328.15 456.87,330.61 464.57,312.47 473.95,316.46 466.26,334.59 472.06,337.05" fill="#ff0000" stroke="#140000" stroke-width="0.8" stroke-linejoin="miter"/>
<polygon points="462.40,350.73 459.61,328.15 465.41,330.61 473.10,312.47 482.49,316.46 474.79,334.59 480.59,337.05" fill="#ff0000" stroke="#140000" stroke-width="0.8" stroke-linejoin="miter"/>
<polygon points="470.94,350.73 468.14,328.15 473.94,330.61 481.64,312.47 491.03,316.46 483.33,334.59 489.13,337.05" fill="#ff0000" stroke="#140000" stroke-width="0.8" stroke-linejoin="miter"/>
<polygon points="479.48,358.23 476.68,335.65 482.48,338.11 490.18,319.97 499.57,323.96 491.87,342.09 497.67,344.55" fill="#ff0000" stroke="#140000" stroke-width="0.8" stroke-linejoin="miter"/>
<polygon points="488.02,358.23 485.22,335.65 491.02,338.11 498.72,319.97 508.10,323.96 500.41,342.09 506.21,344.55" fill="#ff0000" stroke="#140000" stroke-width="0.8" stroke-linejoin="miter"/>
<polygon points="491.07,356.04 495.78,333.77 500.46,337.99 513.64,323.35 521.22,330.17 508.04,344.81 512.72,349.03" fill="#ff0000" stroke="#140000" stroke-width="0.8" stroke-linejoin="miter"/>
<polygon points="499.61,328.64 504.32,306.37 509.00,310.59 522.18,295.95 529.76,302.77 516.58,317.41 521.26,321.63" fill="#ff0000" stroke="#140000" stroke-width="0.8" stroke-linejoin="miter"/>
<polygon points="513.63,340.73 510.83,318.15 516.63,320.61 524.33,302.47 533.72,306.46 526.02,324.59 531.82,327.05" fill="#ff0000" stroke="#140000" stroke-width="0.8" stroke-linejoin="miter"/>
<polygon points="522.17,350.13 519.37,327.55 525.17,330.01 532.87,311.87 542.25,315.86 534.56,333.99 540.36,336.45" fill="#ff0000" stroke="#140000" stroke-width="0.8" stroke-linejoin="miter"/>
<polygon points="530.70,350.93 527.91,328.35 533.71,330.81 541.40,312.67 550.79,316.66 543.09,334.79 548.89,337.25" fill="#ff0000" stroke="#140000" stroke-width="0.8" stroke-linejoin="miter"/>
<polygon points="535.64,357.14 537.60,334.46 542.76,338.07 554.06,321.94 562.41,327.79 551.12,343.93 556.28,347.54" fill="#ff0000" stroke="#140000" stroke-width="0.8" stroke-linejoin="miter"/>
<polygon points="542.04,354.41 547.14,332.23 551.75,336.52 565.18,322.11 572.64,329.07 559.20,343.48 563.81,347.77" fill="#ff0000" stroke="#140000" stroke-width="0.8" stroke-linejoin="miter"/>
<polygon points="550.58,354.41 555.68,332.23 560.28,336.52 573.72,322.11 581.18,329.07 567.74,343.48 572.35,347.77" fill="#ff0000" stroke="#140000" stroke-width="0.8" stroke-linejoin="miter"/>
<polygon points="559.11,336.91 564.21,314.73 568.82,319.02 582.26,304.61 589.72,311.57 576.28,325.98 580.89,330.27" fill="#ff0000" stroke="#140000" stroke-width="0.8" stroke-linejoin="miter"/>
<polygon points="567.16,327.63 573.03,305.64 577.48,310.09 591.41,296.16 598.62,303.38 584.69,317.31 589.15,321.76" fill="#ff0000" stroke="#140000" stroke-width="0.8" stroke-linejoin="miter"/>
<polygon points="583.87,360.94 578.72,338.77 584.75,340.61 590.51,321.77 600.26,324.75 594.50,343.59 600.53,345.43" fill="#ff0000" stroke="#140000" stroke-width="0.8" stroke-linejoin="miter"/>
<polygon points="590.78,369.27 587.59,346.73 593.43,349.09 600.81,330.82 610.27,334.64 602.89,352.91 608.73,355.27" fill="#ff0000" stroke="#140000" stroke-width="0.8" stroke-linejoin="miter"/>
<polygon points="606.70,371.20 595.30,351.50 601.60,351.50 601.60,331.80 611.80,331.80 611.80,351.50 618.10,351.50" fill="#ff0000" stroke="#140000" stroke-width="0.8" stroke-linejoin="miter"/>
<polygon points="615.24,371.20 603.84,351.50 610.14,351.50 610.14,331.80 620.34,331.80 620.34,351.50 626.64,351.50" fill="#ff0000" stroke="#140000" stroke-width="0.8" stroke-linejoin="miter"/>
<polygon points="623.77,371.20 612.38,351.50 618.67,351.50 618.67,331.80 628.88,331.80 628.88,351.50 635.17,351.50" fill="#ff0000" stroke="#140000" stroke-width="0.8" stroke-linejoin="miter"/>
<polygon points="632.31,371.20 620.91,351.50 627.21,351.50 627.21,331.80 637.41,331.80 637.41,351.50 643.71,351.50" fill="#ff0000" stroke="#140000" stroke-width="0.8" stroke-linejoin="miter"/>
<polygon points="640.85,371.20 629.45,351.50 635.75,351.50 635.75,331.80 645.95,331.80 645.95,351.50 652.25,351.50" fill="#ff0000" stroke="#140000" stroke-width="0.8" stroke-linejoin="miter"/>
<polygon points="649.39,360.90 637.99,341.20 644.29,341.20 644.29,321.50 654.49,321.50 654.49,341.20 660.79,341.20" fill="#ff0000" stroke="#140000" stroke-width="0.8" stroke-linejoin="miter"/>
<polygon points="664.66,359.71 647.21,345.10 653.13,342.94 646.39,324.43 655.98,320.94 662.72,339.46 668.64,337.30" fill="#ff0000" stroke="#140000" stroke-width="0.8" stroke-linejoin="miter"/>
<polygon points="680.39,355.93 658.40,350.06 662.86,345.61 648.93,331.68 656.14,324.46 670.07,338.39 674.52,333.94" fill="#ff0000" stroke="#140000" stroke-width="0.8" stroke-linejoin="miter"/>
<polygon points="692.06,350.85 669.30,350.87 672.45,345.42 655.39,335.57 660.49,326.73 677.55,336.58 680.70,331.13" fill="#ff0000" stroke="#140000" stroke-width="0.8" stroke-linejoin="miter"/>
<polygon points="701.93,347.86 679.45,351.44 681.71,345.56 663.32,338.50 666.97,328.98 685.37,336.04 687.62,330.16" fill="#ff0000" stroke="#140000" stroke-width="0.8" stroke-linejoin="miter"/>
<polygon points="711.77,341.20 692.07,352.60 692.07,346.30 672.37,346.30 672.37,336.10 692.07,336.10 692.07,329.80" fill="#ff0000" stroke="#140000" stroke-width="0.8" stroke-linejoin="miter"/>
<polygon points="719.88,348.10 698.24,355.15 699.55,348.99 680.28,344.89 682.40,334.92 701.67,339.01 702.98,332.85" fill="#ff0000" stroke="#140000" stroke-width="0.8" stroke-linejoin="miter"/>
<polygon points="727.42,340.18 704.88,343.37 707.24,337.53 688.97,330.15 692.79,320.69 711.06,328.07 713.42,322.23" fill="#ff0000" stroke="#140000" stroke-width="0.8" stroke-linejoin="miter"/>
<polygon points="709.36,340.45 707.36,317.78 713.07,320.44 721.39,302.59 730.64,306.90 722.31,324.76 728.02,327.42" fill="#ff0000" stroke="#140000" stroke-width="0.8" stroke-linejoin="miter"/>
<polygon points="726.22,360.90 714.82,341.20 721.12,341.20 721.12,321.50 731.32,321.50 731.32,341.20 737.62,341.20" fill="#ff0000" stroke="#140000" stroke-width="0.8" stroke-linejoin="miter"/>
<polygon points="734.76,360.90 723.36,341.20 729.66,341.20 729.66,321.50 739.86,321.50 739.86,341.20 746.16,341.20" fill="#ff0000" stroke="#140000" stroke-width="0.8" stroke-linejoin="miter"/>
<polygon points="743.30,371.30 731.90,351.60 738.20,351.60 738.20,331.90 748.40,331.90 748.40,351.60 754.70,351.60" fill="#ff0000" stroke="#140000" stroke-width="0.8" stroke-linejoin="miter"/>
<polygon points="758.58,379.41 741.13,364.80 747.05,362.64 740.31,344.13 749.89,340.64 756.63,359.16 762.55,357.00" fill="#ff0000" stroke="#140000" stroke-width="0.8" stroke-linejoin="miter"/>
<polygon points="760.37,379.90 748.97,360.20 755.27,360.20 755.27,340.50 765.47,340.50 765.47,360.20 771.77,360.20" fill="#ff0000" stroke="#140000" stroke-width="0.8" stroke-linejoin="miter"/>
<polygon points="768.91,379.90 757.51,360.20 763.81,360.20 763.81,340.50 774.01,340.50 774.01,360.20 780.31,360.20" fill="#ff0000" stroke="#140000" stroke-width="0.8" stroke-linejoin="miter"/>
<polygon points="777.45,379.90 766.05,360.20 772.35,360.20 772.35,340.50 782.55,340.50 782.55,360.20 788.85,360.20" fill="#ff0000" stroke="#140000" stroke-width="0.8" stroke-linejoin="miter"/>
<polygon points="785.99,360.90 774.59,341.20 780.89,341.20 780.89,321.50 791.09,321.50 791.09,341.20 797.39,341.20" fill="#ff0000" stroke="#140000" stroke-width="0.8" stroke-linejoin="miter"/>
<polygon points="794.52,360.90 783.12,341.20 789.42,341.20 789.42,321.50 799.62,321.50 799.62,341.20 805.92,341.20" fill="#ff0000" stroke="#140000" stroke-width="0.8" stroke-linejoin="miter"/>
<polygon points="803.06,360.90 791.66,341.20 797.96,341.20 797.96,321.50 808.16,321.50 808.16,341.20 814.46,341.20" fill="#ff0000" stroke="#140000" stroke-width="0.8" stroke-linejoin="miter"/>
<polygon points="803.27,359.65 801.27,336.98 806.98,339.64 815.30,321.79 824.55,326.10 816.22,343.96 821.93,346.62" fill="#ff0000" stroke="#140000" stroke-width="0.8" stroke-linejoin="miter"/>
<polygon points="811.81,359.65 809.81,336.98 815.52,339.64 823.84,321.79 833.09,326.10 824.76,343.96 830.47,346.62" fill="#ff0000" stroke="#140000" stroke-width="0.8" stroke-linejoin="miter"/>
<polygon points="820.35,350.75 818.34,328.08 824.05,330.74 832.38,312.89 841.62,317.20 833.30,335.06 839.01,337.72" fill="#ff0000" stroke="#140000" stroke-width="0.8" stroke-linejoin="miter"/>
<polygon points="822.12,344.66 829.88,323.27 833.93,328.09 849.03,315.43 855.58,323.24 840.49,335.91 844.54,340.73" fill="#ff0000" stroke="#140000" stroke-width="0.8" stroke-linejoin="miter"/>
<polygon points="830.66,336.66 838.42,315.27 842.47,320.09 857.56,307.43 864.12,315.24 849.03,327.91 853.08,332.73" fill="#ff0000" stroke="#140000" stroke-width="0.8" stroke-linejoin="miter"/>
<polygon points="840.12,327.08 846.37,305.20 850.74,309.73 864.92,296.05 872.00,303.38 857.83,317.07 862.21,321.60" fill="#ff0000" stroke="#140000" stroke-width="0.8" stroke-linejoin="miter"/>
<polygon points="849.39,346.41 854.49,324.23 859.10,328.52 872.53,314.11 879.99,321.07 866.55,335.48 871.16,339.77" fill="#ff0000" stroke="#140000" stroke-width="0.8" stroke-linejoin="miter"/>
<polygon points="863.67,350.73 860.87,328.15 866.67,330.61 874.37,312.47 883.75,316.46 876.06,334.59 881.86,337.05" fill="#ff0000" stroke="#140000" stroke-width="0.8" stroke-linejoin="miter"/>
<polygon points="865.97,345.93 871.84,323.94 876.29,328.39 890.22,314.46 897.44,321.68 883.51,335.61 887.96,340.06" fill="#ff0000" stroke="#140000" stroke-width="0.8" stroke-linejoin="miter"/>
<polygon points="874.27,348.18 880.52,326.30 884.89,330.83 899.07,317.15 906.15,324.48 891.98,338.17 896.36,342.70" fill="#ff0000" stroke="#140000" stroke-width="0.8" stroke-linejoin="miter"/>
<polygon points="884.31,355.39 888.24,332.97 893.07,337.02 905.73,321.93 913.54,328.49 900.88,343.58 905.71,347.63" fill="#ff0000" stroke="#140000" stroke-width="0.8" stroke-linejoin="miter"/>
<polygon points="892.85,355.39 896.78,332.97 901.61,337.02 914.27,321.93 922.08,328.49 909.42,343.58 914.25,347.63" fill="#ff0000" stroke="#140000" stroke-width="0.8" stroke-linejoin="miter"/>
<polygon points="898.96,354.66 906.72,333.27 910.77,338.09 925.86,325.43 932.42,333.24 917.33,345.91 921.38,350.73" fill="#ff0000" stroke="#140000" stroke-width="0.8" stroke-linejoin="miter"/>
<polygon points="908.66,336.43 914.53,314.44 918.98,318.89 932.91,304.96 940.12,312.18 926.19,326.11 930.65,330.56" fill="#ff0000" stroke="#140000" stroke-width="0.8" stroke-linejoin="miter"/>
<polygon points="917.19,336.43 923.06,314.44 927.52,318.89 941.45,304.96 948.66,312.18 934.73,326.11 939.19,330.56" fill="#ff0000" stroke="#140000" stroke-width="0.8" stroke-linejoin="miter"/>
<polygon points="925.73,346.43 931.60,324.44 936.06,328.89 949.99,314.96 957.20,322.18 943.27,336.11 947.72,340.56" fill="#ff0000" stroke="#140000" stroke-width="0.8" stroke-linejoin="miter"/>
<polygon points="933.11,346.66 940.87,325.27 944.92,330.09 960.01,317.43 966.57,325.24 951.48,337.91 955.53,342.73" fill="#ff0000" stroke="#140000" stroke-width="0.8" stroke-linejoin="miter"/>
<polygon points="939.68,341.85 951.04,322.13 954.19,327.58 971.25,317.73 976.35,326.57 959.29,336.42 962.44,341.87" fill="#ff0000" stroke="#140000" stroke-width="0.8" stroke-linejoin="miter"/>
<polygon points="946.25,338.10 962.32,321.99 963.96,328.07 982.98,322.98 985.62,332.83 966.59,337.93 968.23,344.01" fill="#ff0000" stroke="#140000" stroke-width="0.8" stroke-linejoin="miter"/>
<polygon points="954.11,332.50 973.81,321.10 973.81,327.40 993.51,327.40 993.51,337.60 973.81,337.60 973.81,343.90" fill="#ff0000" stroke="#140000" stroke-width="0.8" stroke-linejoin="miter"/>
<polygon points="962.65,314.00 982.35,302.60 982.35,308.90 1002.05,308.90 1002.05,319.10 982.35,319.10 982.35,325.40" fill="#ff0000" stroke="#140000" stroke-width="0.8" stroke-linejoin="miter"/>
<polygon points="971.19,313.50 990.89,302.10 990.89,308.40 1010.59,308.40 1010.59,318.60 990.89,318.60 990.89,324.90" fill="#ff0000" stroke="#140000" stroke-width="0.8" stroke-linejoin="miter"/>
<polygon points="981.57,339.93 994.61,321.27 997.27,326.98 1015.12,318.65 1019.43,327.90 1001.58,336.22 1004.24,341.93" fill="#ff0000" stroke="#140000" stroke-width="0.8" stroke-linejoin="miter"/>
<polygon points="990.11,339.93 1003.14,321.27 1005.81,326.98 1023.66,318.65 1027.97,327.90 1010.12,336.22 1012.78,341.93" fill="#ff0000" stroke="#140000" stroke-width="0.8" stroke-linejoin="miter"/>
<polygon points="998.23,340.08 1012.23,322.13 1014.59,327.97 1032.86,320.59 1036.68,330.05 1018.41,337.43 1020.77,343.27" fill="#ff0000" stroke="#140000" stroke-width="0.8" stroke-linejoin="miter"/>
</svg>
<div class="t" style="left:893px;top:392px;font-size:11px;letter-spacing:0.08px;color:#aaa">www.seabreeze.com.au</div>
<svg width="0" height="0" style="position:absolute">
<defs>
<radialGradient id="sunG" cx="0.42" cy="0.38" r="0.62"><stop offset="0" stop-color="#fff23a"/><stop offset="0.6" stop-color="#ffd200"/><stop offset="1" stop-color="#f29c00"/></radialGradient>
<linearGradient id="cloudG" x1="0.2" y1="0" x2="0.5" y2="1"><stop offset="0" stop-color="#f2f2f2"/><stop offset="0.5" stop-color="#d6d6d6"/><stop offset="1" stop-color="#aaaaaa"/></linearGradient>
<radialGradient id="dropG" cx="0.35" cy="0.4" r="0.7"><stop offset="0" stop-color="#c8f2ff"/><stop offset="0.45" stop-color="#40bcf2"/><stop offset="1" stop-color="#147ec4"/></radialGradient>
<g id="sun">
<g fill="#fbc400" stroke="#e28e00" stroke-width="0.6" stroke-linejoin="round"><polygon points="-2.12,-12.32 1.85,-26.44 3.81,-11.90"/><polygon points="3.00,-12.13 9.15,-18.35 7.88,-9.70"/><polygon points="7.21,-10.21 20.00,-17.39 11.11,-5.72"/><polygon points="10.70,-6.46 19.44,-6.50 12.43,-1.28"/><polygon points="12.32,-2.12 26.44,1.85 11.90,3.81"/><polygon points="12.13,3.00 18.35,9.15 9.70,7.88"/><polygon points="10.21,7.21 17.39,20.00 5.72,11.11"/><polygon points="6.46,10.70 6.50,19.44 1.28,12.43"/><polygon points="2.12,12.32 -1.85,26.44 -3.81,11.90"/><polygon points="-3.00,12.13 -9.15,18.35 -7.88,9.70"/><polygon points="-7.21,10.21 -20.00,17.39 -11.11,5.72"/><polygon points="-10.70,6.46 -19.44,6.50 -12.43,1.28"/><polygon points="-12.32,2.12 -26.44,-1.85 -11.90,-3.81"/><polygon points="-12.13,-3.00 -18.35,-9.15 -9.70,-7.88"/><polygon points="-10.21,-7.21 -17.39,-20.00 -5.72,-11.11"/><polygon points="-6.46,-10.70 -6.50,-19.44 -1.28,-12.43"/></g>
<circle cx="0" cy="0" r="14.2" fill="url(#sunG)" stroke="#e69000" stroke-width="0.8"/>
</g>
<g id="cloud">
<path d="M -8.5,13.5 L 23.5,13.5 C 27,13.5 28.5,10 28.5,6 C 28.5,1 25.5,-3.2 21.5,-3.2 C 20.5,-3.2 19.5,-3 18.5,-2.6 C 16.5,-6.6 13,-8.4 9,-8.4 C 5,-8.4 1.8,-6.8 -0.3,-4.3 C -0.9,-4.5 -1.8,-4.6 -2.6,-4.6 C -8,-4.6 -11.6,-0.3 -11.6,4.8 C -11.6,9.8 -10.4,13.5 -8.5,13.5 Z" fill="url(#cloudG)" stroke="#8a8a8a" stroke-width="0.9"/>
</g>
<g id="drop"><path d="M-3.4,-4.8 C-1.5,-3.6 2.4,-2.2 3.1,0.3 A3.3,3.3 0 1 1 -3.2,1.2 C-3.6,-0.8 -3.6,-2.8 -3.4,-4.8 Z" fill="url(#dropG)" stroke="#1b6fa6" stroke-width="0.5"/></g>
</defs></svg>
<svg style="position:absolute;left:0;top:0" width="1080" height="140">
<g transform="translate(129.8,94.3)"><use href="#sun"/><g transform="translate(0,-1)"><use href="#cloud"/></g><use href="#drop" transform="translate(-5.4,11.2)"/><use href="#drop" transform="translate(7.9,11.2)"/><use href="#drop" transform="translate(22.4,11.5)"/><use href="#drop" transform="translate(0.9,21.2)"/><use href="#drop" transform="translate(14.8,21.2)"/></g>
<g transform="translate(266.4,94.3)"><use href="#sun"/><g transform="translate(0,-1)"><use href="#cloud"/></g><use href="#drop" transform="translate(-5.4,11.2)"/><use href="#drop" transform="translate(7.9,11.2)"/><use href="#drop" transform="translate(22.4,11.5)"/><use href="#drop" transform="translate(0.9,21.2)"/><use href="#drop" transform="translate(14.8,21.2)"/></g>
<g transform="translate(402.9,94.3)"><use href="#sun"/><g transform="translate(0,1)"><use href="#cloud"/></g><use href="#drop" transform="translate(3.1,20.2)"/><use href="#drop" transform="translate(16.2,20.2)"/></g>
<g transform="translate(539.5,94.3)"><use href="#sun"/><g transform="translate(0,1)"><use href="#cloud"/></g><use href="#drop" transform="translate(3.1,20.2)"/><use href="#drop" transform="translate(16.2,20.2)"/></g>
<g transform="translate(676.1,94.3)"><use href="#sun"/><g transform="translate(0,1)"><use href="#cloud"/></g><use href="#drop" transform="translate(3.1,20.2)"/><use href="#drop" transform="translate(16.2,20.2)"/></g>
<g transform="translate(812.6,94.3)"><use href="#sun"/><g transform="translate(0,1)"><use href="#cloud"/></g><use href="#drop" transform="translate(3.1,20.2)"/><use href="#drop" transform="translate(16.2,20.2)"/></g>
<g transform="translate(949.2,94.3)"><use href="#sun"/><g transform="translate(0,-1)"><use href="#cloud"/></g><use href="#drop" transform="translate(-5.4,11.2)"/><use href="#drop" transform="translate(7.9,11.2)"/><use href="#drop" transform="translate(22.4,11.5)"/><use href="#drop" transform="translate(0.9,21.2)"/><use href="#drop" transform="translate(14.8,21.2)"/></g>
</svg>
</body></html>
